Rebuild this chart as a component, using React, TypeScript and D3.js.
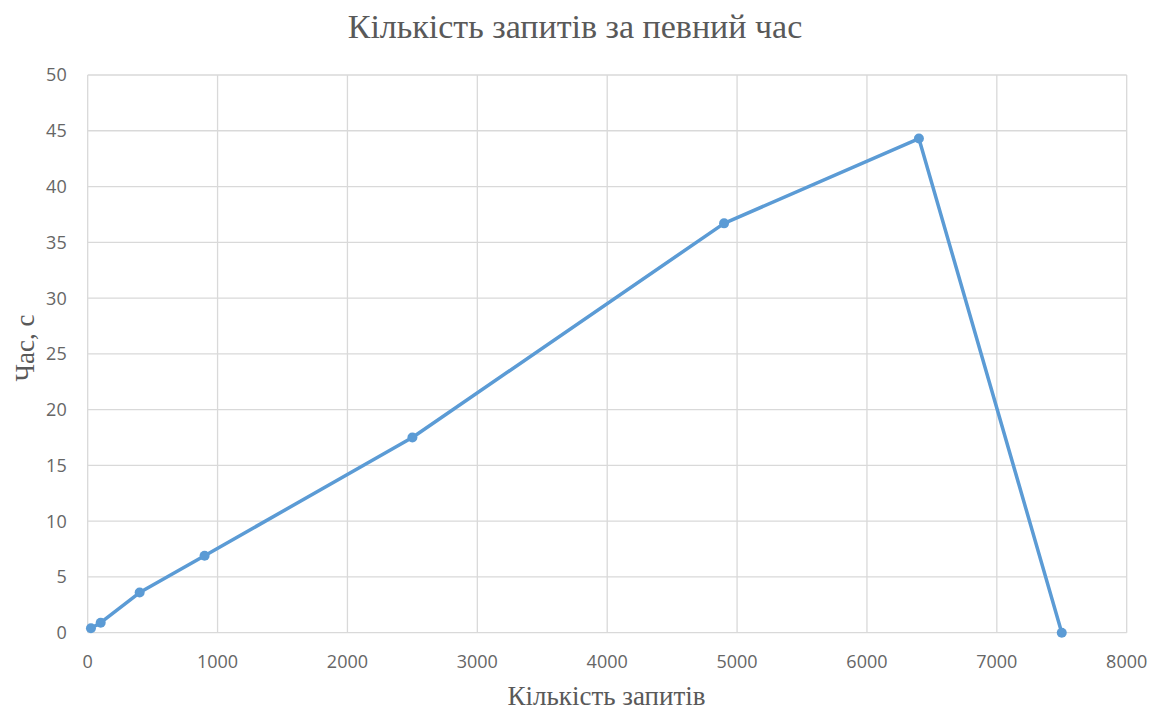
import React from "react";
import * as d3 from "d3";

const requests = [25, 100, 400, 900, 2500, 4900, 6400, 7500];
const seconds = [0.4, 0.9, 3.6, 6.9, 17.5, 36.7, 44.3, 0];
const xTicks = [0, 1000, 2000, 3000, 4000, 5000, 6000, 7000, 8000];
const yTicks = [0, 5, 10, 15, 20, 25, 30, 35, 40, 45, 50];
const title = "Кількість запитів за певний час";
const xTitle = "Кількість запитів";
const yTitle = "Час, с";

const W = 1152, H = 711;
const m = { left: 87.7, right: 1126.7, top: 75, bottom: 632.7 };

export default function App() {
  const x = d3.scaleLinear().domain([0, 8000]).range([m.left, m.right]);
  const y = d3.scaleLinear().domain([0, 50]).range([m.bottom, m.top]);
  const pts = requests.map((r, i) => [r, seconds[i]] as [number, number]);
  const line = d3.line<[number, number]>().x(d => x(d[0])).y(d => y(d[1]));
  const serif = "'Liberation Serif', 'Times New Roman', serif";
  const sans = "'Open Sans', 'Liberation Sans', sans-serif";
  return (
    <svg width={W} height={H} style={{ position: "absolute", left: 0, top: 0, background: "#fff" }}>
      <rect width={W} height={H} fill="#fff" />
      {xTicks.map(t => (
        <line key={"gx" + t} x1={x(t)} x2={x(t)} y1={m.top} y2={m.bottom} stroke="#d9d9d9" strokeWidth={1.3} />
      ))}
      {yTicks.map(t => (
        <line key={"gy" + t} x1={m.left} x2={m.right} y1={y(t)} y2={y(t)} stroke="#d9d9d9" strokeWidth={1.3} />
      ))}
      {xTicks.map(t => (
        <text key={"tx" + t} x={x(t)} y={m.bottom + 35} textAnchor="middle" fontFamily={sans} fontSize={18} fill="#666">{t}</text>
      ))}
      {yTicks.map(t => (
        <text key={"ty" + t} x={m.left - 21} y={y(t)} dy="0.36em" textAnchor="end" fontFamily={sans} fontSize={18} fill="#666">{t}</text>
      ))}
      <path d={line(pts) || ""} fill="none" stroke="#5b9bd5" strokeWidth={3.5} strokeLinejoin="round" />
      {pts.map((p, i) => (
        <circle key={i} cx={x(p[0])} cy={y(p[1])} r={5} fill="#5b9bd5" />
      ))}
      <text x={575} y={38} textAnchor="middle" fontFamily={serif} fontSize={34} fill="#595959">{title}</text>
      <text x={606.5} y={705} textAnchor="middle" fontFamily={serif} fontSize={27} fill="#595959">{xTitle}</text>
      <text transform={`translate(34, ${348}) rotate(-90)`} textAnchor="middle" fontFamily={serif} fontSize={27} fill="#595959">{yTitle}</text>
    </svg>
  );
}
